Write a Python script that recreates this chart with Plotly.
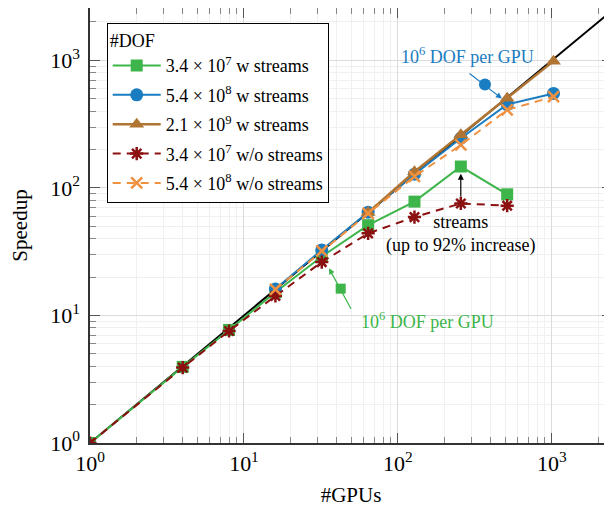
import plotly.graph_objects as go

# ---- data ----
gpus_small = [1, 4, 8, 16, 32, 64, 128, 256, 512]
speedup_34e7_w = [1, 3.95, 7.7, 15.2, 29, 51, 78, 147, 89]
speedup_34e7_wo = [1, 3.9, 7.55, 14.2, 26.2, 44, 59, 75.5, 72.5]

gpus_mid = [16, 32, 64, 128, 256, 512, 1024]
speedup_54e8_w = [16.1, 32.6, 64.5, 128, 245, 450, 550]
speedup_54e8_wo = [16, 32, 63, 123, 217, 409, 518]

gpus_large = [64, 128, 256, 512, 1024]
speedup_21e9_w = [64, 134, 261, 505, 985]

ideal_x = [1, 4096]
ideal_y = [1, 4096]

names = [
    "3.4 × 10<sup>7</sup> w streams",
    "5.4 × 10<sup>8</sup> w streams",
    "2.1 × 10<sup>9</sup> w streams",
    "3.4 × 10<sup>7</sup> w/o streams",
    "5.4 × 10<sup>8</sup> w/o streams",
]

major_vals = [1, 10, 100, 1000]
major_text = ["10<sup>0</sup>", "10<sup>1</sup>", "10<sup>2</sup>", "10<sup>3</sup>"]
minor_vals = [m * 10 ** k for k in range(0, 4) for m in range(2, 10)]

GREEN = "#3db54a"
BLUE = "#1a7cc1"
BROWN = "#b07533"
DARKRED = "#8b1010"
ORANGE = "#f0913f"
FONT = "Liberation Serif, Times New Roman, serif"

fig = go.Figure()

fig.add_trace(go.Scatter(x=ideal_x, y=ideal_y, mode="lines",
                         line=dict(color="black", width=2), showlegend=False,
                         hoverinfo="skip"))

fig.add_trace(go.Scatter(x=gpus_small, y=speedup_34e7_w, mode="lines+markers",
                         name=names[0], legendgroup="a",
                         line=dict(color=GREEN, width=2),
                         marker=dict(symbol="square", size=12, color=GREEN)))
fig.add_trace(go.Scatter(x=gpus_mid, y=speedup_54e8_w, mode="lines+markers",
                         name=names[1], legendgroup="b",
                         line=dict(color=BLUE, width=2),
                         marker=dict(symbol="circle", size=13, color=BLUE)))
fig.add_trace(go.Scatter(x=gpus_large, y=speedup_21e9_w, mode="lines+markers",
                         name=names[2], legendgroup="c",
                         line=dict(color=BROWN, width=2.5),
                         marker=dict(symbol="triangle-up", size=13, color=BROWN)))
fig.add_trace(go.Scatter(x=gpus_small, y=speedup_34e7_wo, mode="lines+markers",
                         name=names[3], legendgroup="d",
                         line=dict(color=DARKRED, width=2, dash="8px,6px"),
                         marker=dict(symbol="asterisk-open", size=11,
                                     line=dict(color=DARKRED, width=2.5))))
fig.add_trace(go.Scatter(x=gpus_mid, y=speedup_54e8_wo, mode="lines+markers",
                         name=names[4], legendgroup="e",
                         line=dict(color=ORANGE, width=2, dash="8px,6px"),
                         marker=dict(symbol="x-thin-open", size=11,
                                     line=dict(color=ORANGE, width=2.5))))

# ---- annotation positions (log10 units) ----
blue_text = (2.45, 3.04)
blue_tail = (2.455, 2.905)
blue_tip = (2.675, 2.70)
blue_pin = (2.565, 2.81)

green_text = (2.195, 0.964)
green_tail = (1.70, 1.04)
green_tip = (1.552, 1.37)
green_pin = (1.628, 1.21)

streams_tail = (2.408, 1.92)
streams_tip = (2.408, 2.11)
streams_text = (2.408, 1.635)

fig.add_trace(go.Scatter(x=[10 ** blue_pin[0]], y=[10 ** blue_pin[1]], mode="markers",
                         marker=dict(symbol="circle", size=12, color=BLUE),
                         showlegend=False, hoverinfo="skip"))
fig.add_trace(go.Scatter(x=[10 ** green_pin[0]], y=[10 ** green_pin[1]], mode="markers",
                         marker=dict(symbol="square", size=10, color=GREEN),
                         showlegend=False, hoverinfo="skip"))

anns = [
    dict(x=blue_text[0], y=blue_text[1], text="10<sup>6</sup> DOF per GPU", showarrow=False,
         font=dict(family=FONT, size=18, color=BLUE)),
    dict(x=blue_tip[0], y=blue_tip[1], ax=blue_tail[0], ay=blue_tail[1], axref="x", ayref="y",
         text="", showarrow=True, arrowhead=2, arrowsize=1, arrowwidth=1.2, arrowcolor=BLUE),
    dict(x=green_text[0], y=green_text[1], text="10<sup>6</sup> DOF per GPU", showarrow=False,
         font=dict(family=FONT, size=18, color=GREEN)),
    dict(x=green_tip[0], y=green_tip[1], ax=green_tail[0], ay=green_tail[1], axref="x", ayref="y",
         text="", showarrow=True, arrowhead=2, arrowsize=1, arrowwidth=1.2, arrowcolor=GREEN),
    dict(x=streams_tip[0], y=streams_tip[1], ax=streams_tail[0], ay=streams_tail[1],
         axref="x", ayref="y", text="", showarrow=True, arrowhead=2, arrowsize=1,
         arrowwidth=1.2, arrowcolor="black"),
    dict(x=streams_text[0], y=streams_text[1], text="streams<br>(up to 92% increase)",
         showarrow=False, font=dict(family=FONT, size=18, color="black")),
]
for a in anns:
    a.setdefault("xref", "x")
    a.setdefault("yref", "y")
    fig.add_annotation(**a)

axis_common = dict(
    type="log", showline=True, linecolor="#333", linewidth=1.5, mirror="allticks",
    ticks="inside", ticklen=10, tickcolor="#555", tickwidth=1,
    tickmode="array", tickvals=major_vals, ticktext=major_text,
    showgrid=True, gridcolor="#dcdcdc", gridwidth=1, zeroline=False,
    tickfont=dict(family=FONT, size=22, color="black"),
    automargin=False,
    minor=dict(tickmode="array", tickvals=minor_vals, ticks="inside", ticklen=6,
               tickcolor="#888", showgrid=True, gridcolor="#f0f0f0"),
)

fig.update_xaxes(**axis_common, range=[0, 3.39],
                 title=dict(text="#GPUs", font=dict(family=FONT, size=21, color="black"),
                            standoff=12))
fig.update_yaxes(**axis_common, range=[0, 3.41], ticklabelstandoff=4,
                 title=dict(text="Speedup", font=dict(family=FONT, size=21, color="black"),
                            standoff=22))

# the page body adds an 8 px offset, so margins are set to compensate
fig.update_layout(
    width=612, height=507,
    margin=dict(l=82, r=8, t=0, b=72, autoexpand=False),
    paper_bgcolor="white", plot_bgcolor="white",
    font=dict(family=FONT, color="black"),
    legend=dict(x=0.032, y=0.966, xanchor="left", yanchor="top",
                bgcolor="white", bordercolor="black", borderwidth=1,
                font=dict(family=FONT, size=18, color="black"),
                title=dict(text="#DOF", font=dict(family=FONT, size=18)),
                itemwidth=48,
                traceorder="grouped", tracegroupgap=3),
)

fig.write_html("out.html")
